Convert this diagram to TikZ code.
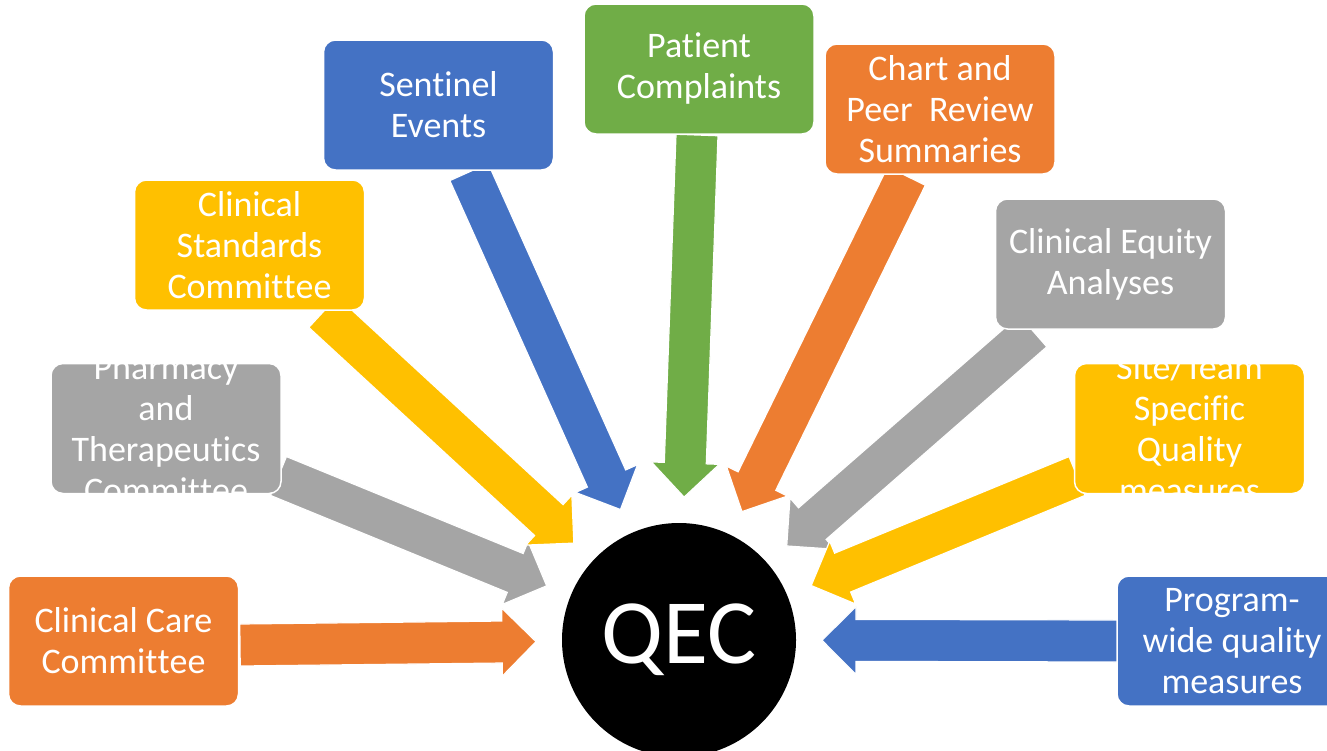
\documentclass[tikz,border=0pt]{standalone}
\usepackage{fontspec}
\setmainfont{Carlito}[Ligatures={NoCommon,NoContextual,NoRequired},Contextuals=NoAlternate]
\usetikzlibrary{calc}
\definecolor{cOrange}{HTML}{ED7D31}
\definecolor{cGray}{HTML}{A5A5A5}
\definecolor{cYellow}{HTML}{FFC000}
\definecolor{cBlue}{HTML}{4472C4}
\definecolor{cGreen}{HTML}{70AD47}
\pgfdeclarelayer{bg}
\pgfsetlayers{bg,main}
\newcommand\qbrk{\kern0pt{}}
% #1 colour, #2 start coordinate, #3 tip coordinate
\newcommand\qarrow[3]{%
  \coordinate (qh) at ($(#3)!34pt!(#2)$);
  \filldraw[fill=#1, arr]
    ($(#2)!21pt!90:(#3)$) -- ($(qh)!21pt!90:(#3)$) -- ($(qh)!34pt!90:(#3)$) -- (#3)
    -- ($(qh)!34pt!-90:(#3)$) -- ($(qh)!21pt!-90:(#3)$) -- ($(#2)!21pt!-90:(#3)$) -- cycle;
}
\begin{document}
\begin{tikzpicture}[x=1pt,y=-1pt,
  box/.style={rectangle, rounded corners=12pt, draw=white, line width=1.5pt,
    minimum width=230pt, minimum height=130pt, inner sep=0pt, align=center,
    text=white, font=\fontsize{36}{41}\selectfont},
  boxtext/.style={draw=none, fill=none, rectangle, inner sep=0pt, align=center,
    text=white, font=\fontsize{36}{41}\selectfont},
  arr/.style={draw=white, line width=1.2pt, line join=miter}]
\useasboundingbox (0,0) rectangle (1327,750);

% centre
\node[circle, fill=black, minimum size=234pt, inner sep=0pt, text=white,
      font=\fontsize{92}{100}\selectfont] (qec) at (679,640) {QEC};

% boxes
\node[box, fill=cOrange] (ccc) at (123.5,641) {Clinical Care\\Commit\qbrk t\qbrk ee};
\node[box, fill=cGray, path picture={\node[boxtext] at (path picture bounding box.center)
      {Pharmacy\\and\\Therapeut\qbrk ics\\Commit\qbrk t\qbrk ee};}] (ptc) at (166,428.5) {};
\node[box, fill=cYellow] (csc) at (249.5,245) {Clinical\\Standards\\Commit\qbrk t\qbrk ee};
\node[box, fill=cBlue] (se) at (438.5,105) {Sent\qbrk inel\\Events};
\node[box, fill=cGreen] (pc) at (699,69) {Pat\qbrk ient\\Complaints};
\node[box, fill=cOrange] (cpr) at (940,109) {Chart and\\Peer~~Review\\Summaries};
\node[box, fill=cGray] (cea) at (1110.5,264) {Clinical Equity\\Analyses};
\node[box, fill=cYellow, path picture={\node[boxtext] at (path picture bounding box.center)
      {Site/Team\\Specific\\Quality\\measures};}] (sts) at (1189.5,428.5) {};
\node[box, fill=cBlue] (pwq) at (1232,641) {Program-\\wide quality\\measures};

% arrow start points (at the boxes) and tips (near QEC)
\coordinate (s-ccc) at (240,645);
\coordinate (s-ptc) at (278.5,476);
\coordinate (s-csc) at (323,312);
\coordinate (s-se)  at (469,172);
\coordinate (s-pc)  at (697,135);
\coordinate (s-cpr) at (906.5,176);
\coordinate (s-cea) at (1033,331);
\coordinate (s-sts) at (1077,476);
\coordinate (s-pwq) at (1118,641);
\foreach \n in {ccc,ptc,csc,se,pc,cpr,cea,sts,pwq}{
  \coordinate (t-\n) at ($(qec.center)!143pt!(s-\n)$);
}

\begin{pgfonlayer}{bg}
\qarrow{cGray}{s-ptc}{t-ptc}
\qarrow{cYellow}{s-csc}{t-csc}
\qarrow{cBlue}{s-se}{t-se}
\qarrow{cGreen}{s-pc}{t-pc}
\qarrow{cOrange}{s-cpr}{t-cpr}
\qarrow{cGray}{s-cea}{t-cea}
\qarrow{cYellow}{s-sts}{t-sts}
\qarrow{cBlue}{s-pwq}{t-pwq}
\qarrow{cOrange}{s-ccc}{t-ccc}
\end{pgfonlayer}
\end{tikzpicture}
\end{document}
